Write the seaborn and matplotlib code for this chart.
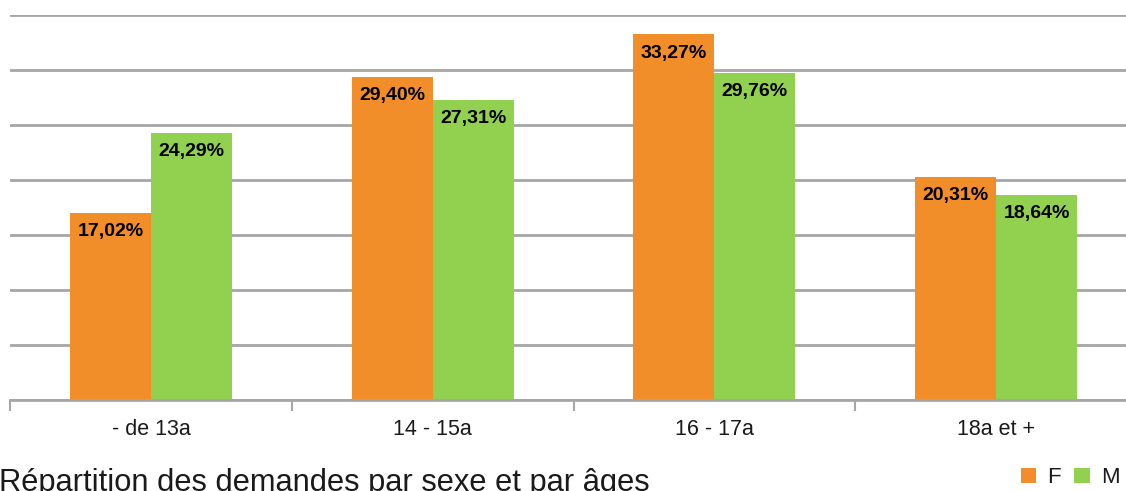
import matplotlib
matplotlib.use("Agg")
import matplotlib.pyplot as plt
from matplotlib.patches import Patch
from matplotlib.ticker import FixedLocator, MultipleLocator
import seaborn as sns
import pandas as pd

# Age groups and share of requests (%) by sex
categories = ["- de 13a", "14 - 15a", "16 - 17a", "18a et +"]
series_names = ["F", "M"]
values_f = [17.02, 29.40, 33.27, 20.31]
values_m = [24.29, 27.31, 29.76, 18.64]
title = "Répartition des demandes par sexe et par âges"

colors = {"F": "#F28E2A", "M": "#92D050"}
grid_color = "#A6A6A6"

df = pd.DataFrame({
    "age": categories * 2,
    "sexe": ["F"] * len(categories) + ["M"] * len(categories),
    "part": values_f + values_m,
})

sns.set_theme(style="white")
plt.rcParams["font.family"] = ["Liberation Sans", "DejaVu Sans"]

W, H, DPI = 1126, 491, 100
fig = plt.figure(figsize=(W / DPI, H / DPI), dpi=DPI)
# plot area: x from 10px to beyond the right edge, y from 15px (35 %) to 400px (0 %)
ax = fig.add_axes([10 / W, (H - 400) / H, 1127 / W, 385 / H])

sns.barplot(data=df, x="age", y="part", hue="sexe", hue_order=series_names,
            order=categories, palette=colors, width=0.575, saturation=1,
            legend=False, ax=ax, linewidth=0)

ax.set_xlim(-0.5, len(categories) - 0.5)
ax.set_ylim(0, 35)
ax.yaxis.set_major_locator(MultipleLocator(5))
ax.grid(axis="y", color=grid_color, linewidth=2)
ax.set_axisbelow(True)
ax.set_yticklabels([])
ax.tick_params(axis="y", length=0)
for side in ["top", "right", "left"]:
    ax.spines[side].set_visible(False)
ax.spines["bottom"].set_color(grid_color)
ax.spines["bottom"].set_linewidth(2)

ax.xaxis.set_minor_locator(FixedLocator([i - 0.5 for i in range(len(categories) + 1)]))
ax.tick_params(axis="x", which="major", bottom=True, length=0, pad=14, labelsize=15.5,
               colors="#1a1a1a")
ax.tick_params(axis="x", which="minor", bottom=True, length=8, width=1.5,
               color=grid_color, direction="out")
ax.set_xlabel("")
ax.set_ylabel("")

# value labels inside the top of each bar
for container, vals in zip(ax.containers, [values_f, values_m]):
    for bar, v in zip(container, vals):
        ax.annotate(f"{v:.2f}%".replace(".", ","),
                    (bar.get_x() + bar.get_width() / 2, bar.get_height()),
                    xytext=(0, -19), textcoords="offset pixels",
                    ha="center", va="center", fontsize=14, fontweight="bold",
                    color="black")

fig.text(-0.001, 0.0, title, ha="left", va="baseline", fontsize=22.2, color="#1a1a1a")

handles = [Patch(facecolor=colors[s], edgecolor="none") for s in series_names]
fig.legend(handles, series_names, ncol=2, loc="lower right", bbox_to_anchor=(1.012, -0.035),
           frameon=False, fontsize=16, handlelength=0.7, handleheight=0.7,
           handletextpad=0.5, columnspacing=0.6, labelcolor="#1a1a1a")

fig.savefig("out.png", dpi=DPI)
